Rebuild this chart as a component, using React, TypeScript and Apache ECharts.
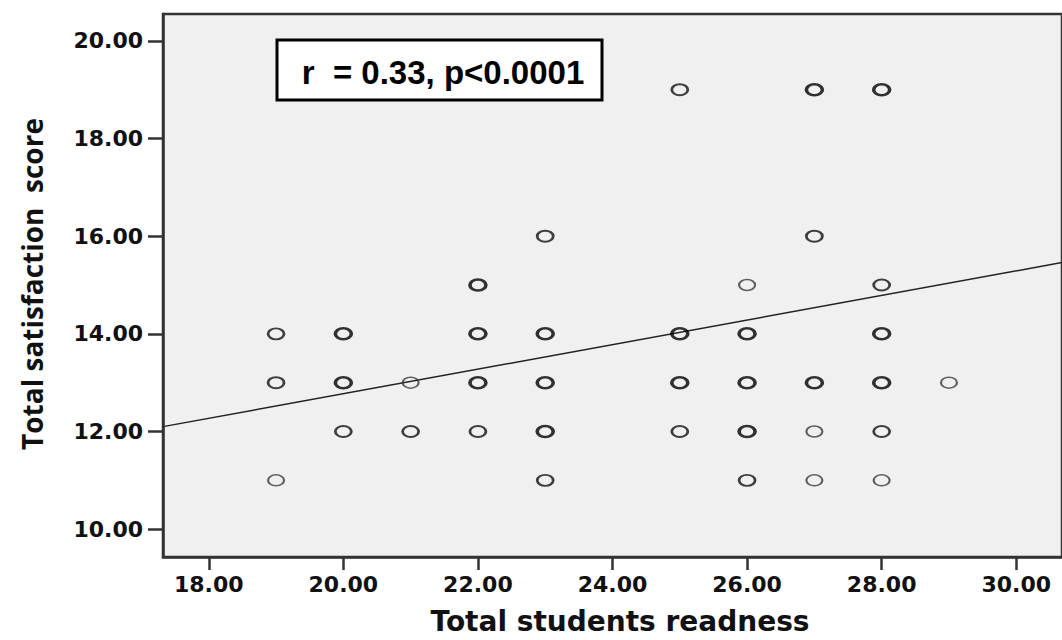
import React, { useEffect, useRef } from "react";
import * as echarts from "echarts";

// x = Total students readness, y = Total satisfaction score
const singlePoints: [number, number][] = [
  [19, 11], [21, 13], [26, 15], [27, 12], [27, 11], [28, 11], [29, 13],
];
const doublePoints: [number, number][] = [
  [19, 14], [19, 13], [20, 12], [21, 12], [22, 12], [25, 12], [28, 12],
  [28, 15], [23, 11], [26, 11], [25, 19], [23, 16], [27, 16],
];
const multiPoints: [number, number][] = [
  [20, 14], [20, 13], [22, 15], [22, 14], [22, 13], [23, 14], [23, 13],
  [23, 12], [25, 14], [25, 13], [26, 14], [26, 13], [26, 12], [27, 19],
  [27, 13], [28, 19], [28, 14], [28, 13],
];
const fitLine: [number, number][] = [
  [17.32, 12.1],
  [30.68, 15.46],
];
const xTicks = [18, 20, 22, 24, 26, 28, 30];
const yTicks = [10, 12, 14, 16, 18, 20];
const statsText = "r  = 0.33, p<0.0001";
const xName = "Total students readness";
const yName = "Total satisfaction  score";

const ELLIPSE = "path://M0,50 A50,50 0 1,1 100,50 A50,50 0 1,1 0,50 Z";

export default function App() {
  const ref = useRef<HTMLDivElement>(null);
  useEffect(() => {
    if (!ref.current) return;
    const chart = echarts.init(ref.current, undefined, { renderer: "svg" });
    const labelStyle = {
      fontFamily: "DejaVu Sans",
      fontWeight: "bold" as const,
      fontSize: 22,
      color: "#111",
      formatter: (v: number) => v.toFixed(2),
    };
    const scatterSeries = (data: [number, number][], color: string, width: number) => ({
      type: "scatter",
      data,
      symbol: ELLIPSE,
      symbolSize: [16, 11],
      itemStyle: { color: "rgba(0,0,0,0)", borderColor: color, borderWidth: width },
      z: 3,
    });
    chart.setOption({
      animation: false,
      grid: {
        left: 163,
        top: 14,
        right: -10,
        bottom: 83,
        show: true,
        backgroundColor: "#f0f0f0",
        borderColor: "#333",
        borderWidth: 2.5,
      },
      xAxis: {
        type: "value",
        min: 17.32,
        max: 30.68,
        splitLine: { show: false },
        axisLine: { show: true, lineStyle: { color: "#333", width: 2.5 } },
        axisTick: {
          show: true,
          length: 13,
          customValues: xTicks,
          lineStyle: { color: "#333", width: 2.5 },
        },
        axisLabel: { ...labelStyle, margin: 16, customValues: xTicks },
      },
      yAxis: {
        type: "value",
        min: 9.43,
        max: 20.55,
        splitLine: { show: false },
        axisLine: { show: true, lineStyle: { color: "#333", width: 2.5 } },
        axisTick: {
          show: true,
          length: 15,
          customValues: yTicks,
          lineStyle: { color: "#333", width: 2.5 },
        },
        axisLabel: { ...labelStyle, margin: 20, customValues: yTicks },
      },
      series: [
        {
          type: "line",
          data: fitLine,
          symbol: "none",
          lineStyle: { color: "#222", width: 1.5 },
          z: 2,
        },
        scatterSeries(singlePoints, "#3a3a3a", 1.8),
        scatterSeries(doublePoints, "#111", 2.3),
        scatterSeries(multiPoints, "#000", 3),
      ],
      graphic: [
        {
          type: "rect",
          shape: { x: 277, y: 40, width: 325, height: 60 },
          style: { fill: "#fff", stroke: "#000", lineWidth: 3 },
          z: 10,
        },
        {
          type: "text",
          style: {
            text: statsText,
            x: 443,
            y: 72,
            align: "center",
            verticalAlign: "middle",
            font: "bold 33px 'Liberation Sans', Arial, sans-serif",
            fill: "#000",
          },
          z: 11,
        },
        {
          type: "text",
          style: {
            text: xName,
            x: 620,
            y: 621,
            align: "center",
            verticalAlign: "middle",
            font: "bold 28px 'DejaVu Sans', sans-serif",
            fill: "#111",
          },
        },
        {
          type: "text",
          x: 32,
          y: 284,
          rotation: Math.PI / 2,
          style: {
            text: yName,
            x: 0,
            y: 0,
            align: "center",
            verticalAlign: "middle",
            font: "bold 28px 'Open Sans', sans-serif",
            fill: "#111",
          },
        },
      ],
    });
    return () => chart.dispose();
  }, []);
  return (
    <div
      ref={ref}
      style={{ position: "fixed", left: 0, top: 0, width: 1062, height: 640, background: "#fff" }}
    />
  );
}
